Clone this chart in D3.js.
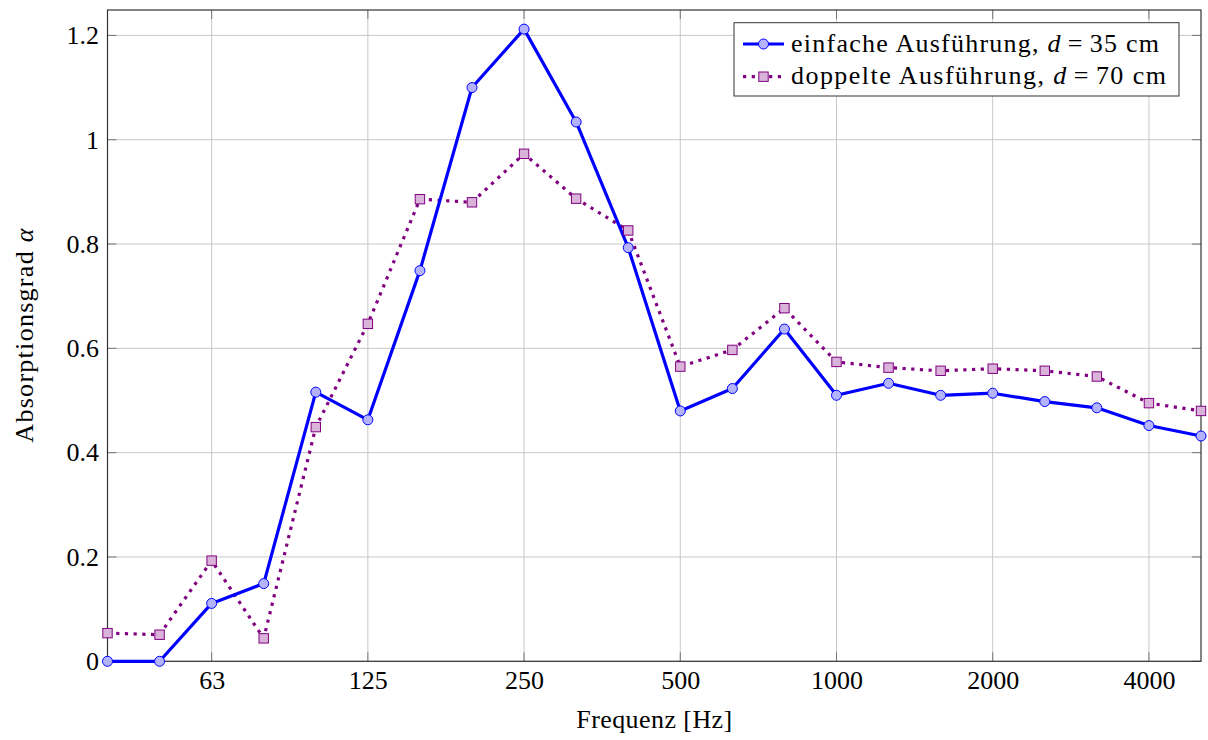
<!DOCTYPE html>
<html>
<head>
<meta charset="utf-8">
<script src="https://cdn.jsdelivr.net/npm/d3@7"></script>
<style>
  html, body { margin: 0; padding: 0; background: #fff; }
  svg { display: block; font-family: "Liberation Serif", "DejaVu Serif", serif; }
</style>
</head>
<body>
<svg id="chart" width="1208" height="740"></svg>
<script>
// Third-octave band centre frequencies (Hz)
const bands = [40, 50, 63, 80, 100, 125, 160, 200, 250, 315, 400, 500,
               630, 800, 1000, 1250, 1600, 2000, 2500, 3150, 4000, 5000];

// Absorption coefficient, single build-up, d = 35 cm
const einfache = [0.000, 0.000, 0.111, 0.149, 0.516, 0.463, 0.749, 1.100, 1.212, 1.034, 0.793,
                  0.480, 0.523, 0.637, 0.510, 0.533, 0.510, 0.514, 0.498, 0.486, 0.452, 0.432];

// Absorption coefficient, double build-up, d = 70 cm
const doppelte = [0.054, 0.051, 0.193, 0.044, 0.449, 0.647, 0.886, 0.880, 0.973, 0.887, 0.826,
                  0.565, 0.597, 0.677, 0.574, 0.563, 0.557, 0.561, 0.557, 0.546, 0.495, 0.480];

const xTicks = [63, 125, 250, 500, 1000, 2000, 4000];
const yTicks = [0, 0.2, 0.4, 0.6, 0.8, 1, 1.2];

(function () {
const svg = d3.select("#chart");
const pLeft = 107.5, pRight = 1201, pTop = 10, pBottom = 661.3;
const fontSize = 26;

const x = d3.scalePoint().domain(bands).range([pLeft, pRight]).padding(0);
const y = d3.scaleLinear().domain([0, 1.2487]).range([pBottom, pTop]);

const gridColor = "#c8c8c8";
const axisColor = "#333333";

// grid lines
const grid = svg.append("g");
grid.selectAll("line.gx").data(xTicks).join("line")
  .attr("x1", d => x(d)).attr("x2", d => x(d))
  .attr("y1", pTop).attr("y2", pBottom)
  .attr("stroke", gridColor).attr("stroke-width", 1);
grid.selectAll("line.gy").data(yTicks).join("line")
  .attr("x1", pLeft).attr("x2", pRight)
  .attr("y1", d => y(d)).attr("y2", d => y(d))
  .attr("stroke", gridColor).attr("stroke-width", 1);

// inner tick marks on all four sides
const ticks = svg.append("g").attr("stroke", "#777").attr("stroke-width", 1);
const tl = 9;
xTicks.forEach(t => {
  ticks.append("line").attr("x1", x(t)).attr("x2", x(t)).attr("y1", pBottom).attr("y2", pBottom - tl);
  ticks.append("line").attr("x1", x(t)).attr("x2", x(t)).attr("y1", pTop).attr("y2", pTop + tl);
});
yTicks.forEach(t => {
  ticks.append("line").attr("x1", pLeft).attr("x2", pLeft + tl).attr("y1", y(t)).attr("y2", y(t));
  ticks.append("line").attr("x1", pRight).attr("x2", pRight - tl).attr("y1", y(t)).attr("y2", y(t));
});

// axes with tick labels
const xAxis = d3.axisBottom(x).tickValues(xTicks).tickSize(0).tickPadding(9.5);
const gx = svg.append("g").attr("transform", `translate(0,${pBottom})`).call(xAxis);
gx.select(".domain").remove();
gx.selectAll("text").attr("font-size", fontSize).attr("fill", "#000")
  .attr("font-family", "Liberation Serif, serif");

const yAxis = d3.axisLeft(y).tickValues(yTicks).tickSize(0).tickPadding(8.5)
  .tickFormat(d => d3.format("~g")(d));
const gy = svg.append("g").attr("transform", `translate(${pLeft},0)`).call(yAxis);
gy.select(".domain").remove();
gy.selectAll("text").attr("font-size", fontSize).attr("fill", "#000")
  .attr("font-family", "Liberation Serif, serif");

// frame
svg.append("rect").attr("x", pLeft).attr("y", pTop)
  .attr("width", pRight - pLeft).attr("height", pBottom - pTop)
  .attr("fill", "none").attr("stroke", axisColor).attr("stroke-width", 1.2);

// series
const series = [
  { name: "einfache", values: einfache, color: "#0000ff", fill: "#b3b3ff", dash: null, marker: "circle", width: 3.2 },
  { name: "doppelte", values: doppelte, color: "#800080", fill: "#d9b3d9", dash: "3.2,5.5", marker: "square", width: 3.2 }
];

const line = d3.line().x(d => x(d[0])).y(d => y(d[1]));

// dotted series first so the solid line sits on top
[series[1], series[0]].forEach(s => {
  const pts = bands.map((b, i) => [b, s.values[i]]);
  svg.append("path").datum(pts)
    .attr("d", line).attr("fill", "none")
    .attr("stroke", s.color).attr("stroke-width", s.width)
    .attr("stroke-dasharray", s.dash)
    .attr("stroke-linejoin", "round");
});
[series[1], series[0]].forEach(s => {
  const pts = bands.map((b, i) => [b, s.values[i]]);
  if (s.marker === "circle") {
    svg.append("g").selectAll("circle").data(pts).join("circle")
      .attr("cx", d => x(d[0])).attr("cy", d => y(d[1])).attr("r", 5)
      .attr("fill", s.fill).attr("stroke", s.color).attr("stroke-width", 1);
  } else {
    svg.append("g").selectAll("rect").data(pts).join("rect")
      .attr("x", d => x(d[0]) - 4.7).attr("y", d => y(d[1]) - 4.7)
      .attr("width", 9.4).attr("height", 9.4)
      .attr("fill", s.fill).attr("stroke", s.color).attr("stroke-width", 1);
  }
});

// legend
const lg = svg.append("g");
lg.append("rect").attr("x", 734).attr("y", 22.7).attr("width", 445).attr("height", 73.3)
  .attr("fill", "#fff").attr("stroke", axisColor).attr("stroke-width", 1);
const legendRows = [
  { s: series[0], label: "einfache Ausführung,", num: "35", y: 44, base: 51.7 },
  { s: series[1], label: "doppelte Ausführung,", num: "70", y: 76.7, base: 83.6 }
];
legendRows.forEach(r => {
  lg.append("line").attr("x1", 743).attr("x2", 784).attr("y1", r.y).attr("y2", r.y)
    .attr("stroke", r.s.color).attr("stroke-width", r.s.width)
    .attr("stroke-dasharray", r.s.dash);
  if (r.s.marker === "circle") {
    lg.append("circle").attr("cx", 763.5).attr("cy", r.y).attr("r", 5)
      .attr("fill", r.s.fill).attr("stroke", r.s.color).attr("stroke-width", 1);
  } else {
    lg.append("rect").attr("x", 763.5 - 4.7).attr("y", r.y - 4.7).attr("width", 9.4).attr("height", 9.4)
      .attr("fill", r.s.fill).attr("stroke", r.s.color).attr("stroke-width", 1);
  }
  const t = lg.append("text").attr("x", 791).attr("y", r.base)
    .attr("font-size", fontSize).attr("fill", "#000")
    .attr("textLength", r.num === "35" ? 368 : 375).attr("lengthAdjust", "spacing");
  t.append("tspan").text(r.label + " ");
  t.append("tspan").attr("font-style", "italic").text("d");
  t.append("tspan").attr("dx", 6).text("=");
  t.append("tspan").attr("dx", 6).text(r.num + " cm");
});

// axis titles
svg.append("text").attr("x", (pLeft + pRight) / 2).attr("y", 728)
  .attr("text-anchor", "middle").attr("font-size", fontSize).attr("fill", "#000")
  .attr("textLength", 156).attr("lengthAdjust", "spacing")
  .text("Frequenz [Hz]");

const yl = svg.append("text")
  .attr("transform", `translate(33,${(pTop + pBottom) / 2}) rotate(-90)`)
  .attr("text-anchor", "middle").attr("font-size", fontSize).attr("fill", "#000")
  .attr("textLength", 214).attr("lengthAdjust", "spacing");
yl.append("tspan").text("Absorptionsgrad ");
yl.append("tspan").attr("font-style", "italic").text("α");
})();
</script>
</body>
</html>
